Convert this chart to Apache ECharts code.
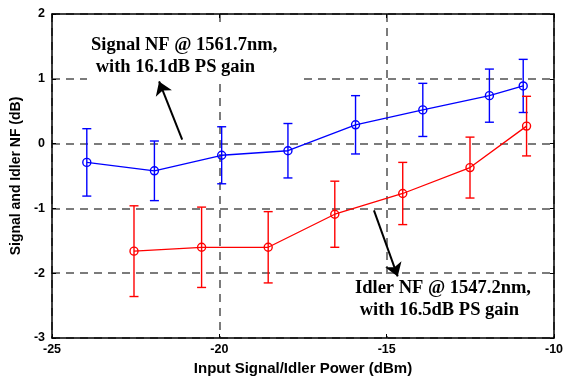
<!DOCTYPE html>
<html>
<head>
<meta charset="utf-8">
<script src="https://cdn.jsdelivr.net/npm/echarts@6/dist/echarts.min.js"></script>
<style>
  html, body { margin: 0; padding: 0; background: #fff; }
  #chart { width: 565px; height: 378px; }
</style>
</head>
<body>
<div id="chart"></div>
<script>
// signal NF (blue)
const signalX = [-23.96, -21.94, -19.93, -17.95, -15.93, -13.92, -11.93, -10.92];
const signalNF = [-0.29, -0.42, -0.18, -0.11, 0.29, 0.52, 0.74, 0.89];
const signalErr = [0.52, 0.46, 0.44, 0.42, 0.45, 0.41, 0.41, 0.41];

// idler NF (red)
const idlerX = [-22.55, -20.53, -18.54, -16.55, -14.52, -12.51, -10.82];
const idlerNF = [-1.66, -1.60, -1.60, -1.09, -0.77, -0.37, 0.27];
const idlerErr = [0.70, 0.62, 0.55, 0.51, 0.48, 0.47, 0.46];

// annotation arrows, [tail, head] in data units
const signalArrow = [[-21.11, 0.06], [-21.80, 0.96]];
const idlerArrow = [[-15.38, -1.03], [-14.67, -2.05]];

const chart = echarts.init(document.getElementById('chart'));

const zip = (xs, ys) => xs.map((x, i) => [x, ys[i]]);
const errData = (xs, ys, es) => xs.map((x, i) => [x, ys[i] - es[i], ys[i] + es[i]]);

function errorBar(color) {
  return function (params, api) {
    const lo = api.coord([api.value(0), api.value(1)]);
    const hi = api.coord([api.value(0), api.value(2)]);
    const w = 4.5;
    const style = {stroke: color, lineWidth: 1.4, fill: null};
    return {
      type: 'group',
      children: [
        {type: 'line', shape: {x1: lo[0], y1: lo[1], x2: hi[0], y2: hi[1]}, style},
        {type: 'line', shape: {x1: lo[0] - w, y1: lo[1], x2: lo[0] + w, y2: lo[1]}, style},
        {type: 'line', shape: {x1: hi[0] - w, y1: hi[1], x2: hi[0] + w, y2: hi[1]}, style}
      ]
    };
  };
}

const arrowLine = (a) => ({
  silent: true,
  symbol: ['none', 'arrow'],
  symbolSize: 13,
  label: {show: false},
  lineStyle: {color: '#000', width: 2, type: 'solid'},
  emphasis: {disabled: true},
  data: [[{coord: a[0]}, {coord: a[1]}]]
});

const labelFont = {fontFamily: 'Liberation Sans', fontWeight: 'bold', fontSize: 12.5, color: '#000'};
const gridLine = {show: true, lineStyle: {color: '#505050', type: [8, 6], width: 1.5}};
const frameLine = {show: true, onZero: false, lineStyle: {color: '#000', width: 1.5}};
const tick = {inside: true, length: 4, lineStyle: {color: '#000'}};
const noteFont = 'bold 18.5px "Liberation Serif"';

const option = {
  animation: false,
  grid: {left: 52, right: 11, top: 14, bottom: 40, containLabel: false, outerBoundsMode: 'none'},
  xAxis: [{
    type: 'value', min: -25, max: -10, interval: 5,
    name: 'Input Signal/Idler Power (dBm)', nameLocation: 'middle', nameGap: 20,
    nameTextStyle: {...labelFont, fontSize: 15},
    axisLine: frameLine, axisTick: tick,
    axisLabel: {...labelFont, margin: 5},
    splitLine: gridLine
  }, {
    type: 'value', position: 'top', min: -25, max: -10, interval: 5,
    axisLine: frameLine, axisTick: tick,
    axisLabel: {show: false}, splitLine: {show: false}
  }],
  yAxis: [{
    type: 'value', min: -3, max: 2, interval: 1,
    name: 'Signal and Idler NF (dB)', nameLocation: 'middle', nameGap: 23,
    nameTextStyle: {...labelFont, fontSize: 14},
    axisLine: frameLine, axisTick: tick,
    axisLabel: {...labelFont, margin: 7},
    splitLine: gridLine
  }, {
    type: 'value', position: 'right', min: -3, max: 2, interval: 1,
    axisLine: frameLine, axisTick: tick,
    axisLabel: {show: false}, splitLine: {show: false}
  }],
  series: [
    {
      name: 'Signal NF', type: 'line', data: zip(signalX, signalNF),
      symbol: 'circle', symbolSize: 8,
      lineStyle: {color: '#0000ff', width: 1.3},
      itemStyle: {color: 'rgba(0,0,0,0)', borderColor: '#0000ff', borderWidth: 1.4},
      markLine: arrowLine(signalArrow), z: 3
    },
    {
      name: 'Idler NF', type: 'line', data: zip(idlerX, idlerNF),
      symbol: 'circle', symbolSize: 8,
      lineStyle: {color: '#ff0000', width: 1.3},
      itemStyle: {color: 'rgba(0,0,0,0)', borderColor: '#ff0000', borderWidth: 1.4},
      markLine: arrowLine(idlerArrow), z: 3
    },
    {
      type: 'custom', renderItem: errorBar('#0000ff'),
      data: errData(signalX, signalNF, signalErr),
      encode: {x: 0, y: [1, 2]}, z: 4, silent: true
    },
    {
      type: 'custom', renderItem: errorBar('#ff0000'),
      data: errData(idlerX, idlerNF, idlerErr),
      encode: {x: 0, y: [1, 2]}, z: 4, silent: true
    }
  ],
  graphic: [
    {
      type: 'rect', z: 1, silent: true,
      shape: {x: 87, y: 28, width: 217, height: 56},
      style: {fill: '#fff'}
    },
    {
      type: 'text', left: 91, top: 34, z: 1, z2: 10, silent: true,
      style: {text: 'Signal NF @ 1561.7nm,\n with 16.1dB PS gain', font: noteFont, fill: '#000', lineHeight: 22}
    },
    {
      type: 'rect', z: 1, silent: true,
      shape: {x: 350, y: 277, width: 202, height: 55},
      style: {fill: '#fff'}
    },
    {
      type: 'text', left: 355, top: 277, z: 1, z2: 10, silent: true,
      style: {text: 'Idler NF @ 1547.2nm,\n with 16.5dB PS gain', font: noteFont, fill: '#000', lineHeight: 22}
    }
  ]
};

chart.setOption(option);
</script>
</body>
</html>
